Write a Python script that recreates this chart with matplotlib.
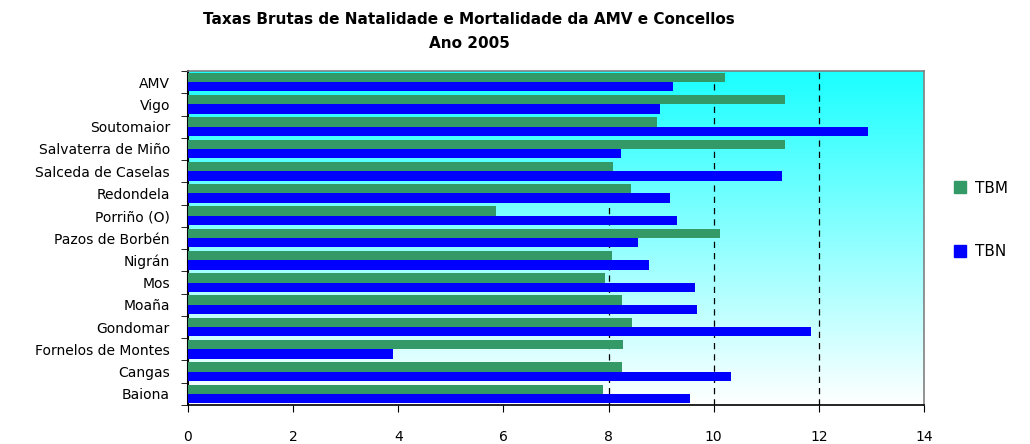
import numpy as np
import matplotlib

matplotlib.use("Agg")
import matplotlib.pyplot as plt
from matplotlib.patches import Patch
from matplotlib.colors import LinearSegmentedColormap

# datos (de arriba a abajo)
concellos = ["AMV", "Vigo", "Soutomaior", "Salvaterra de Miño", "Salceda de Caselas",
             "Redondela", "Porriño (O)", "Pazos de Borbén", "Nigrán", "Mos",
             "Moaña", "Gondomar", "Fornelos de Montes", "Cangas", "Baiona"]
tbm = [10.21, 11.36, 8.92, 11.36, 8.08, 8.43, 5.86, 10.12, 8.07, 7.93,
       8.26, 8.45, 8.27, 8.26, 7.89]
tbn = [9.23, 8.98, 12.93, 8.24, 11.30, 9.17, 9.30, 8.56, 8.77, 9.64,
       9.68, 11.85, 3.90, 10.33, 9.55]

plt.rcParams["font.family"] = ["DejaVu Sans"]

fig = plt.figure(figsize=(10.3, 4.44), dpi=100)
ax = fig.add_axes([188 / 1030, 1 - 405 / 444, (924 - 188) / 1030, (405 - 71) / 444])

n = len(concellos)
y = np.arange(n)[::-1]
h = 0.42

# fondo degradado cian -> branco
cmap = LinearSegmentedColormap.from_list("bg", ["#ffffff", "#1affff"])
grad = np.linspace(0, 1, 256).reshape(-1, 1)
ax.imshow(grad, extent=[0, 14, -0.5, n - 0.5], origin="lower", aspect="auto",
          cmap=cmap, zorder=0)

ax.barh(y + h / 2, tbm, height=h, color="#339966", zorder=3, label="TBM")
ax.barh(y - h / 2, tbn, height=h, color="#0000ff", zorder=3, label="TBN")

for gx in [8, 10, 12]:
    ax.axvline(gx, color="black", linestyle=(0, (5, 4)), linewidth=0.9, zorder=2)

ax.set_xlim(0, 14)
ax.set_ylim(-0.5, n - 0.5)
ax.set_xticks(np.arange(0, 15, 2))
ax.set_yticks(y)
ax.set_yticklabels(concellos)
ax.set_yticks(np.arange(-0.5, n, 1), minor=True)
ax.tick_params(axis="y", which="major", length=0, pad=13, labelsize=10)
ax.tick_params(axis="y", which="minor", length=5, direction="out")
ax.tick_params(axis="x", length=5, direction="out", pad=13, labelsize=10)

ax.spines["left"].set_linewidth(1.5)
ax.spines["bottom"].set_linewidth(1.2)
for s in ["top", "right"]:
    ax.spines[s].set_color("#808080")
    ax.spines[s].set_linewidth(1.2)

fig.text(469 / 1030, 1 - 20 / 444, "Taxas Brutas de Natalidade e Mortalidade da AMV e Concellos",
         ha="center", va="center", fontsize=11, fontweight="bold")
fig.text(469 / 1030, 1 - 44 / 444, "Ano 2005",
         ha="center", va="center", fontsize=11, fontweight="bold")

handles = [Patch(color="#339966", label="TBM"), Patch(color="#0000ff", label="TBN")]
fig.legend(handles=handles, loc="center left", bbox_to_anchor=(940 / 1030, 1 - 220 / 444),
           frameon=False, handlelength=0.8, handleheight=0.8, handletextpad=0.6,
           labelspacing=3.2, fontsize=11)

fig.savefig("out.png", dpi=100)
